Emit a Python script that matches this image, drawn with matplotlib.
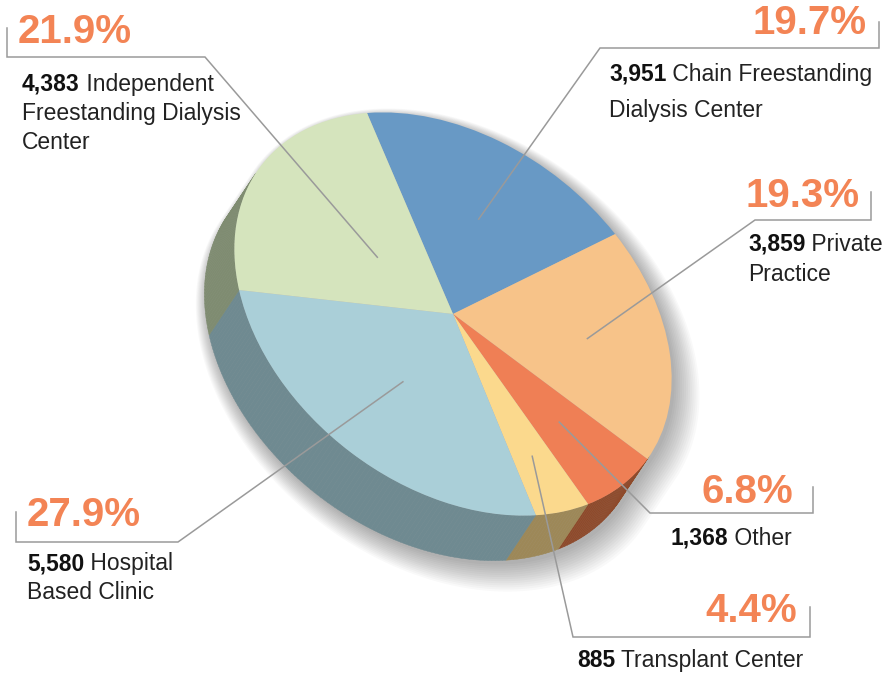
import numpy as np
import matplotlib.pyplot as plt
from matplotlib.patches import Wedge, Polygon
from matplotlib.transforms import Affine2D

# slices, clockwise from the top of the pie
names = [['Chain Freestanding', 'Dialysis Center'],
         ['Private', 'Practice'],
         ['Other'],
         ['Transplant Center'],
         ['Hospital', 'Based Clinic'],
         ['Independent', 'Freestanding Dialysis', 'Center']]
counts = [3951, 3859, 1368, 885, 5580, 4383]

top_colors = ['#6899c5', '#f7c389', '#ef7f55', '#fbd98d', '#aacfd8', '#d5e4bd']
side_colors = ['#3f5f7d', '#a98457', '#8e4a2b', '#9d8858', '#6f8a91', '#7f8c71']

FONT = 'Liberation Sans'
PCT_COLOR = '#f38455'
LINE_COLOR = '#9a9a9a'

# projected circle: unit circle -> pixel space (tilted pie)
center = (453, 314)
mat = np.array([[201.0, 86.0], [-15.4, 201.0]])
depth = np.array([-30.0, 45.0])          # extrusion in pixels

# label layout (pixels)
pct_pos = [(867, 34, 'right'), (860, 207, 'right'), (793, 503, 'right'),
           (797, 622, 'right'), (27, 526, 'left'), (18, 43, 'left')]
label_x = [609, 748, 670, 577, 27, 22]
label_y = [[81, 117], [251, 281], [545], [667], [570, 599], [91, 120, 149]]
brackets = [[(600, 48), (879, 48), (879, 22)],
            [(755, 220), (871, 220), (871, 192)],
            [(650, 513), (813, 513), (813, 487)],
            [(573, 637), (810, 637), (810, 607)],
            [(178, 542), (16, 542), (16, 512)],
            [(205, 57), (7, 57), (7, 28)]]
anchor_r = [0.55, 0.62, 0.63, 0.72, 0.49, 0.39]

fig = plt.figure(figsize=(8.88, 6.73), dpi=100)
ax = fig.add_axes([0, 0, 1, 1])
ax.set_xlim(0, 888)
ax.set_ylim(673, 0)
ax.axis('off')

unit = Affine2D.from_values(mat[0, 0], mat[1, 0], mat[0, 1], mat[1, 1], center[0], center[1])
tr = unit + ax.transData

total = sum(counts)
fracs = np.array(counts) / total
edges = -90 + 360 * np.concatenate([[0], np.cumsum(fracs)])

d_unit = np.linalg.solve(mat, depth)
phi_d = np.degrees(np.arctan2(d_unit[1], d_unit[0]))


def visible(phi):
    return np.cos(np.radians(phi - phi_d)) > 0


# soft drop shadow of the whole pie
phis = np.linspace(0, 360, 721)
outline = []
for p in phis:
    u = np.array([np.cos(np.radians(p)), np.sin(np.radians(p))])
    outline.append(u + d_unit if visible(p) else u)
outline = np.array(outline)
for k in range(14):
    s = 1.0 + 0.006 * k
    sh = Affine2D().scale(s).translate(*(np.linalg.solve(mat, [3 + 0.6 * k, 4 + 0.6 * k])))
    ax.add_patch(Polygon(outline, closed=True, facecolor='black', edgecolor='none',
                         alpha=0.022, transform=sh + tr))

# side walls
for i in range(len(counts)):
    a, b = edges[i], edges[i + 1]
    ps = np.linspace(a, b, max(int(b - a), 2) + 1)
    for p1, p2 in zip(ps[:-1], ps[1:]):
        pm = (p1 + p2) / 2
        if not visible(pm):
            continue
        u1 = np.array([np.cos(np.radians(p1)), np.sin(np.radians(p1))])
        u2 = np.array([np.cos(np.radians(p2)), np.sin(np.radians(p2))])
        quad = [u1, u2, u2 + d_unit, u1 + d_unit]
        ax.add_patch(Polygon(quad, closed=True, facecolor=side_colors[i],
                             edgecolor=side_colors[i], linewidth=0.3, transform=tr))

# top face
for i in range(len(counts)):
    ax.add_patch(Wedge((0, 0), 1, edges[i], edges[i + 1], facecolor=top_colors[i],
                       edgecolor='none', transform=tr))

# leader lines and labels
for i in range(len(counts)):
    mid = np.radians((edges[i] + edges[i + 1]) / 2)
    anchor = unit.transform([anchor_r[i] * np.cos(mid), anchor_r[i] * np.sin(mid)])
    pts = np.array([anchor] + brackets[i])
    ax.plot(pts[:, 0], pts[:, 1], color=LINE_COLOR, linewidth=1.1, solid_joinstyle='miter')

    x, y, ha = pct_pos[i]
    ax.text(x, y, f'{fracs[i] * 100:.1f}%', fontsize=29, fontweight='bold', color=PCT_COLOR,
            ha=ha, va='baseline', family=FONT)

    lines = names[i]
    t = ax.text(label_x[i], label_y[i][0], f'{counts[i]:,}', fontsize=16.5, fontweight='bold',
                color='#111111', ha='left', va='baseline', family=FONT)
    ax.annotate(' ' + lines[0], xy=(1, 0), xycoords=t, ha='left', va='bottom',
                fontsize=16.5, color='#222222', family=FONT)
    for line, ly in zip(lines[1:], label_y[i][1:]):
        ax.text(label_x[i], ly, line, fontsize=16.5, color='#222222', ha='left',
                va='baseline', family=FONT)

fig.savefig('out.png', dpi=100)
